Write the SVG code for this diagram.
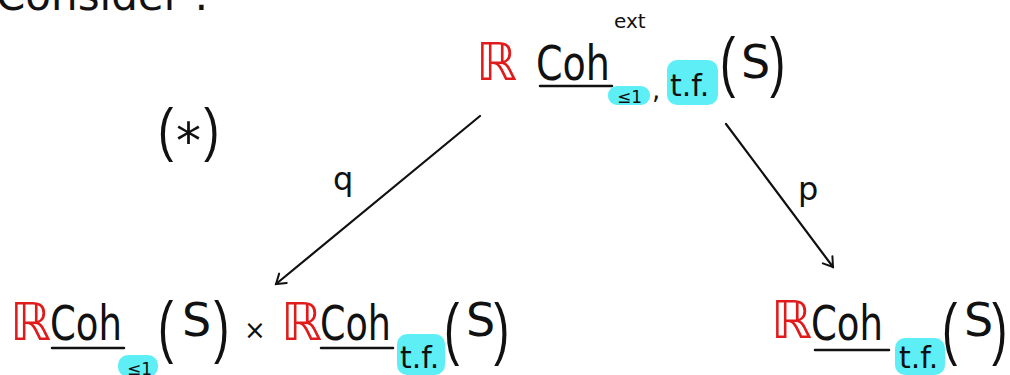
<svg xmlns="http://www.w3.org/2000/svg" width="1010" height="375" viewBox="0 0 1010 375">
<defs>
<style>
.t{font-family:"DejaVu Sans","Liberation Sans",sans-serif;fill:#111}
.r{font-family:"DejaVu Sans",sans-serif;fill:#e01b1b;font-size:52px}
.coh{font-size:48px}
.ul{stroke:#111;stroke-width:2.5;stroke-linecap:round}
.hl{fill:#5eeff6}
.par{font-size:46px;font-family:"Liberation Sans",sans-serif;fill:#111}
.s{font-size:46px}
.sub{font-size:17px}
.tf{font-size:30px}
.edge{stroke:#111;stroke-width:2.2;fill:none;stroke-linecap:round}
.lbl{font-size:32px}
</style>
<marker id="ah" viewBox="-12 -8 14 16" refX="0" refY="0" markerWidth="14" markerHeight="16" markerUnits="userSpaceOnUse" orient="auto">
<path d="M-9,-6 L0,0 L-9,6" fill="none" stroke="#111" stroke-width="2" stroke-linecap="round"/>
</marker>
</defs>
<rect width="1010" height="375" fill="#fff"/>
<text class="t" x="-4" y="10" font-size="42">Consider :</text>
<g id="star">
<text class="par" transform="translate(158,150) scale(1,1.3)">(</text>
<text class="t" x="176" y="158" font-size="50">*</text>
<text class="par" transform="translate(204,150) scale(1,1.3)">)</text>
</g>
<g id="connectors">
<path class="edge" d="M480,116 L276,284" marker-end="url(#ah)"/>
<path class="edge" d="M726,124 L833,267" marker-end="url(#ah)"/>
<text class="t lbl" x="333" y="190">q</text>
<text class="t lbl" x="798" y="200">p</text>
</g>
<g id="top">
<text class="r" x="476" y="80">ℝ</text>
<text class="t coh" x="536" y="80" textLength="74" lengthAdjust="spacingAndGlyphs">Coh</text>
<line class="ul" x1="540" y1="86" x2="612" y2="86"/>
<text class="t" x="614" y="28" font-size="20">ext</text>
<rect class="hl" x="608" y="86" width="42" height="19" rx="9"/>
<text class="t sub" x="617" y="103">≤1</text>
<text class="t" x="652" y="99" font-size="26">,</text>
<rect class="hl" x="667" y="60" width="51" height="45" rx="10"/>
<text class="t tf" x="670" y="96">t.f.</text>
<text class="par" transform="translate(720,84) scale(1,1.45)">(</text>
<text class="t s" x="741" y="78">S</text>
<text class="par" transform="translate(770,84) scale(1,1.45)">)</text>
</g>
<g id="left">
<text class="r" x="10" y="340">ℝ</text>
<text class="t coh" x="50" y="340" textLength="72" lengthAdjust="spacingAndGlyphs">Coh</text>
<line class="ul" x1="52" y1="348" x2="124" y2="348"/>
<rect class="hl" x="118" y="355" width="40" height="22" rx="10"/>
<text class="t sub" x="127" y="375">≤1</text>
<text class="par" transform="translate(158,350) scale(1,1.5)">(</text>
<text class="t s" x="182" y="336">S</text>
<text class="par" transform="translate(214,350) scale(1,1.5)">)</text>
<text class="t" x="244" y="339" font-size="26">×</text>
<text class="r" x="281" y="340">ℝ</text>
<text class="t coh" x="320" y="340" textLength="71" lengthAdjust="spacingAndGlyphs">Coh</text>
<line class="ul" x1="321" y1="348" x2="393" y2="348"/>
<rect class="hl" x="397" y="334" width="48" height="41" rx="10"/>
<text class="t tf" x="400" y="368">t.f.</text>
<text class="par" transform="translate(444,352) scale(1,1.5)">(</text>
<text class="t s" x="466" y="336">S</text>
<text class="par" transform="translate(494,352) scale(1,1.5)">)</text>
</g>
<g id="right">
<text class="r" x="771" y="338">ℝ</text>
<text class="t coh" x="811" y="340" textLength="72" lengthAdjust="spacingAndGlyphs">Coh</text>
<line class="ul" x1="815" y1="350" x2="889" y2="350"/>
<rect class="hl" x="895" y="338" width="50" height="37" rx="10"/>
<text class="t tf" x="899" y="368">t.f.</text>
<text class="par" transform="translate(942,352) scale(1,1.5)">(</text>
<text class="t s" x="964" y="336">S</text>
<text class="par" transform="translate(992,352) scale(1,1.5)">)</text>
</g>
</svg>
